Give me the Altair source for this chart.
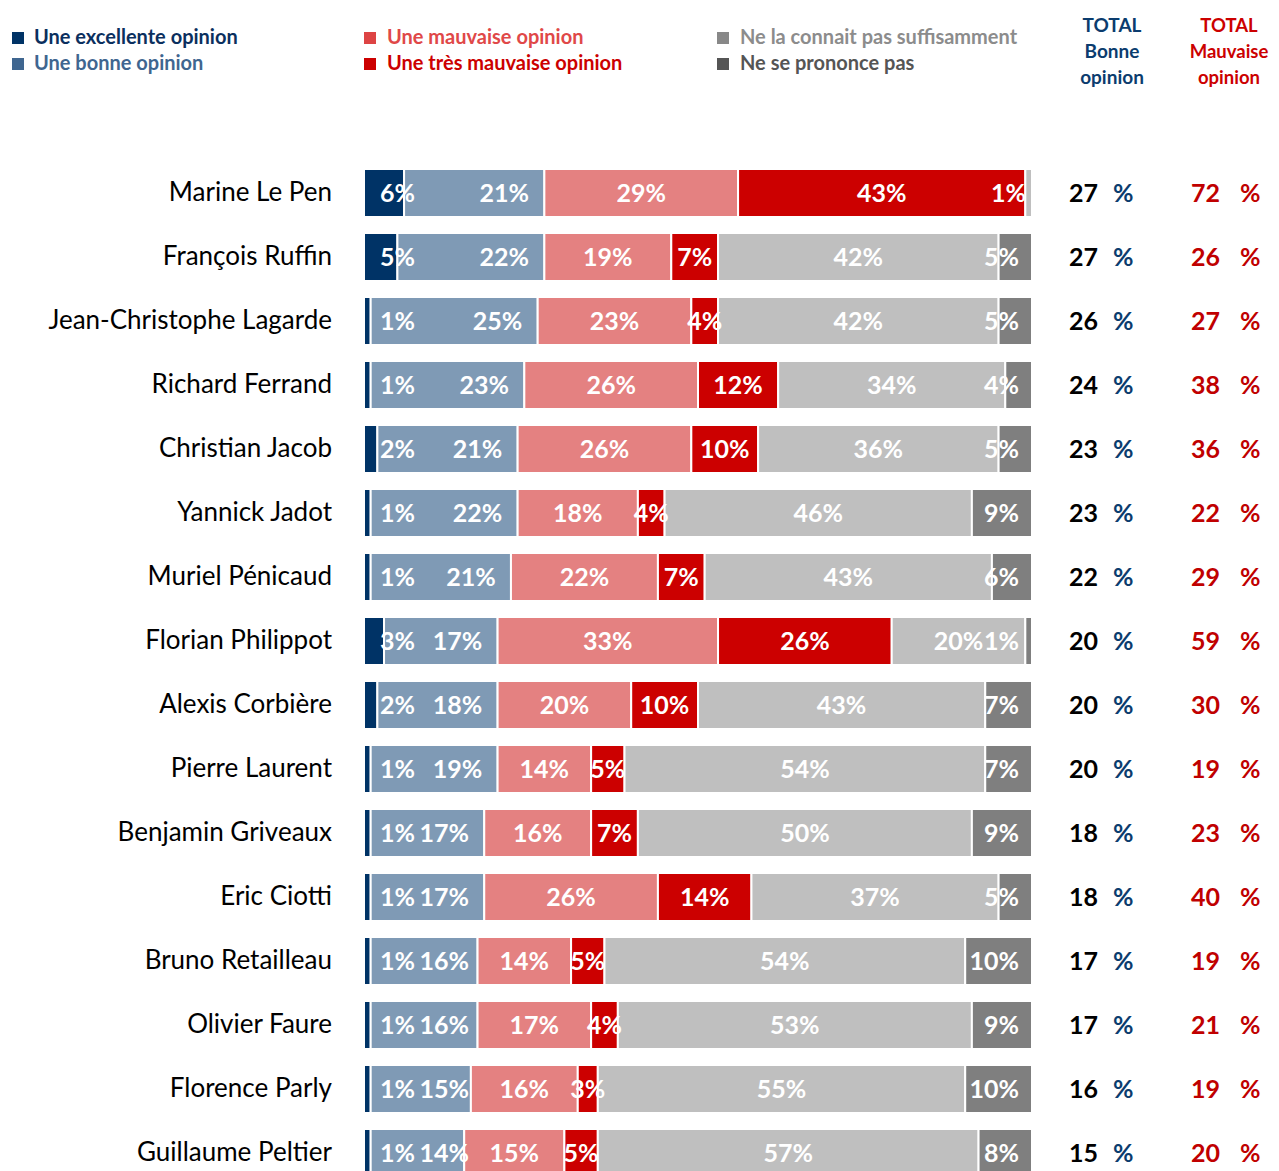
import altair as alt
import pandas as pd

names = ["Marine Le Pen", "François Ruffin", "Jean-Christophe Lagarde", "Richard Ferrand",
         "Christian Jacob", "Yannick Jadot", "Muriel Pénicaud", "Florian Philippot",
         "Alexis Corbière", "Pierre Laurent", "Benjamin Griveaux", "Eric Ciotti",
         "Bruno Retailleau", "Olivier Faure", "Florence Parly", "Guillaume Peltier"]
excellente = [6, 5, 1, 1, 2, 1, 1, 3, 2, 1, 1, 1, 1, 1, 1, 1]
bonne = [21, 22, 25, 23, 21, 22, 21, 17, 18, 19, 17, 17, 16, 16, 15, 14]
mauvaise = [29, 19, 23, 26, 26, 18, 22, 33, 20, 14, 16, 26, 14, 17, 16, 15]
tres_mauvaise = [43, 7, 4, 12, 10, 4, 7, 26, 10, 5, 7, 14, 5, 4, 3, 5]
ne_connait_pas = [1, 42, 42, 34, 36, 46, 43, 20, 43, 54, 50, 37, 54, 53, 55, 57]
ne_se_prononce = [0, 5, 5, 4, 5, 9, 6, 1, 7, 7, 9, 5, 10, 9, 10, 8]
total_bonne = [27, 27, 26, 24, 23, 23, 22, 20, 20, 20, 18, 18, 17, 17, 16, 15]
total_mauvaise = [72, 26, 27, 38, 36, 22, 29, 59, 30, 19, 23, 40, 19, 21, 19, 20]

categories = ["Une excellente opinion", "Une bonne opinion", "Une mauvaise opinion",
              "Une très mauvaise opinion", "Ne la connait pas suffisamment", "Ne se prononce pas"]
bar_colors = ["#003366", "#7F9AB5", "#E48181", "#CC0000", "#BFBFBF", "#7F7F7F"]
legend_sq_colors = ["#003366", "#3F6690", "#DD4444", "#CC0000", "#888888", "#555555"]
legend_txt_colors = ["#0B2F5E", "#3F6690", "#E04848", "#CC0000", "#8C8C8C", "#555555"]

FONT = "Lato"

series = [excellente, bonne, mauvaise, tres_mauvaise, ne_connait_pas, ne_se_prononce]
rows = []
for i, n in enumerate(names):
    start = 0
    for c, vals in enumerate(series):
        v = vals[i]
        end = start + v
        if c == 0:
            lx = 5
        elif c == 1:
            lx = max(end - 6, 12)
        elif c == 4:
            lx = min((start + end) / 2, 96.5)
        else:
            lx = (start + end) / 2
        rows.append(dict(name=n, cat=categories[c], start=start, end=end, v=v,
                         label=f"{v}%", lx=lx, order=c))
        start = end
df = pd.DataFrame(rows)

yenc = alt.Y("name:N", sort=names, axis=None,
             scale=alt.Scale(domain=names, range=[153, 1177], paddingInner=0.25, paddingOuter=0.125))
xscale = alt.Scale(domain=[0, 100], range=[356, 1024])

bars = alt.Chart(df).mark_bar(stroke="white", strokeWidth=2).encode(
    x=alt.X("start:Q", scale=xscale, axis=None),
    x2="end:Q",
    y=yenc,
    color=alt.Color("cat:N", scale=alt.Scale(domain=categories, range=bar_colors), legend=None),
)

center_labels = alt.Chart(df[(df.v > 0) & (df.order < 5)]).mark_text(
    color="white", font=FONT, fontWeight="bold", fontSize=25, baseline="middle", dy=1
).encode(x=alt.X("lx:Q", scale=xscale), y=yenc, text="label:N")

nsp_labels = alt.Chart(df[(df.v > 0) & (df.order == 5)]).mark_text(
    color="white", font=FONT, fontWeight="bold", fontSize=25, baseline="middle", align="right", dx=-13, dy=1
).encode(x=alt.X("end:Q", scale=xscale), y=yenc, text="label:N")

ndf = pd.DataFrame({"name": names, "tb": total_bonne, "tm": total_mauvaise})

name_text = alt.Chart(ndf).mark_text(
    align="right", baseline="middle", font=FONT, fontSize=26, color="black"
).encode(x=alt.value(324), y=yenc, text="name:N")

tb_num = alt.Chart(ndf).mark_text(
    align="right", baseline="middle", font=FONT, fontSize=25, fontWeight="bold", color="black", dy=1
).encode(x=alt.value(1090), y=yenc, text="tb:N")
tb_pct = alt.Chart(ndf).mark_text(
    align="left", baseline="middle", font=FONT, fontSize=25, fontWeight="bold", color="#0B3C6E", dy=1, text="%"
).encode(x=alt.value(1105), y=yenc)
tm_num = alt.Chart(ndf).mark_text(
    align="right", baseline="middle", font=FONT, fontSize=25, fontWeight="bold", color="#C00000", dy=1
).encode(x=alt.value(1212), y=yenc, text="tm:N")
tm_pct = alt.Chart(ndf).mark_text(
    align="left", baseline="middle", font=FONT, fontSize=25, fontWeight="bold", color="#C00000", dy=1, text="%"
).encode(x=alt.value(1232), y=yenc)

# legend
legend_layers = []
col_sq_x = [10, 362, 715]
col_tx_x = [26, 379, 732]
row_y = [30, 56]
for i, cat in enumerate(categories):
    col, r = i // 2, i % 2
    legend_layers.append(
        alt.Chart(pd.DataFrame({"t": [cat]})).mark_square(size=144, opacity=1, color=legend_sq_colors[i])
        .encode(x=alt.value(col_sq_x[col]), y=alt.value(row_y[r]))
    )
    legend_layers.append(
        alt.Chart(pd.DataFrame({"t": [cat]})).mark_text(
            align="left", baseline="middle", font=FONT, fontSize=20, fontWeight="bold",
            color=legend_txt_colors[i])
        .encode(x=alt.value(col_tx_x[col]), y=alt.value(row_y[r]), text="t:N")
    )

header_bonne = ["TOTAL", "Bonne", "opinion"]
header_mauv = ["TOTAL", "Mauvaise", "opinion"]
header_layers = []
for j, (a, b) in enumerate(zip(header_bonne, header_mauv)):
    header_layers.append(
        alt.Chart(pd.DataFrame({"t": [a]})).mark_text(
            align="center", baseline="middle", font=FONT, fontSize=19, fontWeight="bold", color="#0B3C6E")
        .encode(x=alt.value(1104), y=alt.value(18 + 26 * j), text="t:N")
    )
    header_layers.append(
        alt.Chart(pd.DataFrame({"t": [b]})).mark_text(
            align="center", baseline="middle", font=FONT, fontSize=18.5, fontWeight="bold", color="#CC0000")
        .encode(x=alt.value(1221), y=alt.value(18 + 26 * j), text="t:N")
    )

chart = alt.layer(
    bars, center_labels, nsp_labels, name_text, tb_num, tb_pct, tm_num, tm_pct,
    *legend_layers, *header_layers
).properties(
    width=1263, height=1163,
    autosize=alt.AutoSizeParams(type="none"),
    padding=0,
).configure_view(stroke=None)

chart.save("out.html", embed_options={"renderer": "svg", "actions": False})
